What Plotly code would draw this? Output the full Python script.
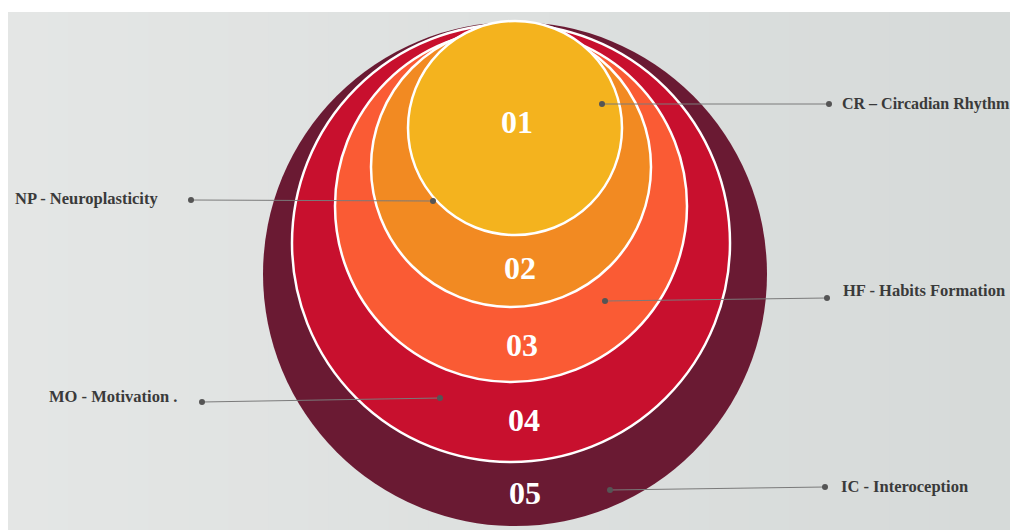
import plotly.graph_objects as go

# ---- data ----
ring_numbers = ["01", "02", "03", "04", "05"]
ring_radius = [107, 140, 176, 219, 252]
ring_cx = [515, 511, 511, 511, 515]
ring_cy = [128, 167, 206, 243, 274]
ring_colors = ["#F4B31E", "#F28A22", "#FA5B34", "#C8102E", "#6A1A33"]
number_x = [517, 520, 522, 524, 525]
number_y = [122, 268, 345, 420, 493]

labels = ["CR – Circadian Rhythm", "NP - Neuroplasticity", "HF - Habits Formation",
          "MO - Motivation .", "IC - Interoception"]
inner_dot_x = [602, 433, 605, 440, 610]
inner_dot_y = [104, 201, 301, 398, 490]
outer_dot_x = [829, 191, 827, 202, 825]
outer_dot_y = [104, 200, 298, 402, 487]
text_x = [840, 13, 841, 47, 839]
text_y = [104, 198, 290, 396, 486]

W, H = 1010, 530
fig = go.Figure()

shapes = []
# background (photo of a slide) with a soft horizontal gradient
n_strips = 50
c0 = (228, 230, 229)
c1 = (214, 218, 217)
for k in range(n_strips):
    t = k / (n_strips - 1)
    c = tuple(round(c0[j] + (c1[j] - c0[j]) * t) for j in range(3))
    xa = 8 + (W - 8) * k / n_strips
    xb = 8 + (W - 8) * (k + 1) / n_strips + 1
    shapes.append(dict(type="rect", xref="x", yref="y", x0=xa, x1=xb, y0=12, y1=H,
                       fillcolor="rgb(%d,%d,%d)" % c, line=dict(width=0), layer="below"))

# circles, outermost first
for i in reversed(range(len(ring_numbers))):
    r = ring_radius[i]
    cx, cy = ring_cx[i], ring_cy[i]
    shapes.append(dict(type="circle", xref="x", yref="y",
                       x0=cx - r, x1=cx + r, y0=cy - r, y1=cy + r,
                       fillcolor=ring_colors[i],
                       line=dict(color="white", width=0 if i == len(ring_numbers) - 1 else 2.5),
                       layer="below"))

# connector lines and dots
for i in range(len(labels)):
    fig.add_trace(go.Scatter(x=[inner_dot_x[i], outer_dot_x[i]], y=[inner_dot_y[i], outer_dot_y[i]],
                             mode="lines", line=dict(color="#7A7A7A", width=1),
                             hoverinfo="skip", showlegend=False))
    fig.add_trace(go.Scatter(x=[inner_dot_x[i], outer_dot_x[i]], y=[inner_dot_y[i], outer_dot_y[i]],
                             mode="markers", marker=dict(color="#555555", size=6),
                             hoverinfo="skip", showlegend=False))

annotations = []
for i, n in enumerate(ring_numbers):
    annotations.append(dict(x=number_x[i], y=number_y[i], xref="x", yref="y", text="<b>%s</b>" % n,
                            showarrow=False, font=dict(family="Liberation Serif, DejaVu Serif, serif",
                                                       size=32, color="white")))
for i, t in enumerate(labels):
    annotations.append(dict(x=text_x[i], y=text_y[i], xref="x", yref="y", text="<b>%s</b>" % t,
                            xanchor="left", showarrow=False,
                            font=dict(family="Liberation Serif, DejaVu Serif, serif",
                                      size=16 if i == 0 else 16.5, color="#3A3A3A")))

fig.update_layout(
    width=W, height=H, margin=dict(l=0, r=0, t=0, b=0),
    paper_bgcolor="white", plot_bgcolor="white",
    shapes=shapes, annotations=annotations,
    xaxis=dict(range=[0, W], visible=False, fixedrange=True),
    yaxis=dict(range=[H, 0], visible=False, fixedrange=True),
    showlegend=False,
)
fig.write_html("out.html")
